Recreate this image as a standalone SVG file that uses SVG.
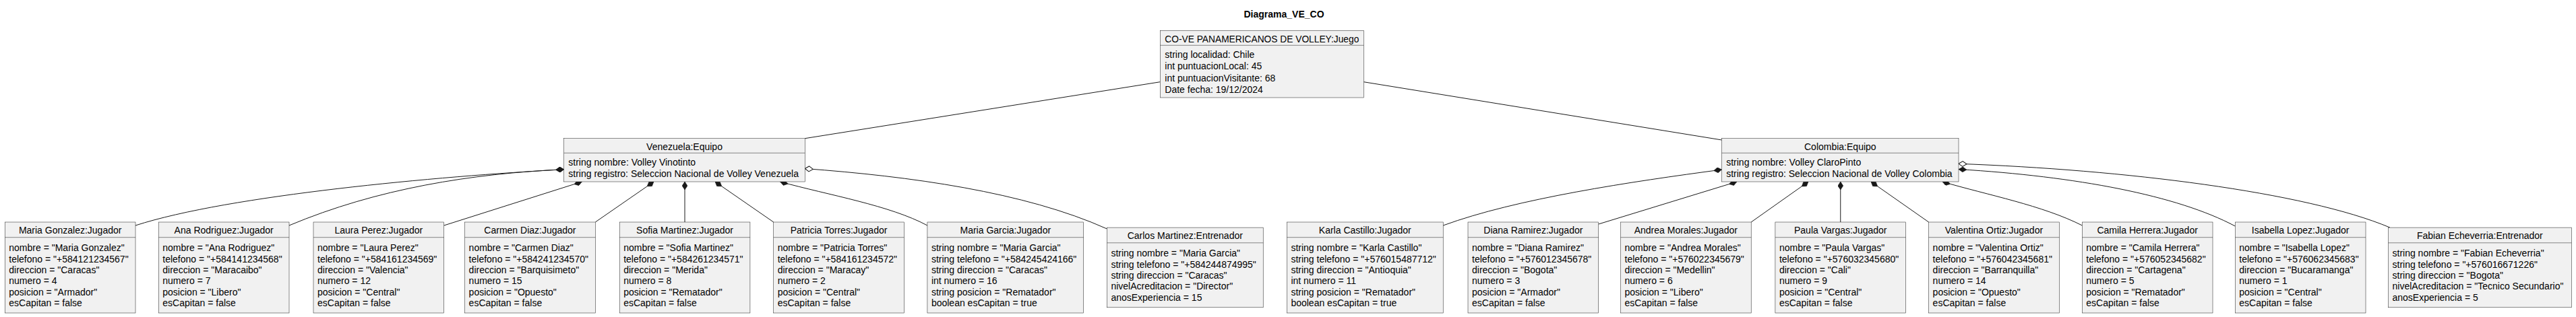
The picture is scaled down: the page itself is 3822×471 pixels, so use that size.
<svg xmlns="http://www.w3.org/2000/svg" width="3822" height="471" viewBox="0 0 3822 471">
<style>
.box{fill:#F1F1F1;stroke:#181818;stroke-width:0.5}
.sep{stroke:#181818;stroke-width:0.5}
text{font-family:"Liberation Sans",Arial,sans-serif;font-size:14px;fill:#000}
.h{text-anchor:middle}
.title{font-weight:bold;text-anchor:middle}
.edge{fill:none;stroke:#181818;stroke-width:1}
.c{marker-start:url(#comp)}
.a{marker-start:url(#agg)}
</style>
<defs>
<marker id="comp" markerUnits="userSpaceOnUse" viewBox="0 0 12 8" refX="0" refY="4" markerWidth="12" markerHeight="8" orient="auto"><path d="M0,4 L6,0 L12,4 L6,8 Z" fill="#181818" stroke="#181818" stroke-width="0.5"/></marker>
<marker id="agg" markerUnits="userSpaceOnUse" viewBox="-1 -1 14 10" refX="0" refY="4" markerWidth="14" markerHeight="10" orient="auto"><path d="M0,4 L6,0 L12,4 L6,8 Z" fill="#FFFFFF" stroke="#181818" stroke-width="1"/></marker>
</defs>
<rect width="3822" height="471" fill="#FFFFFF"/>
<text class="title" x="1905" y="26">Diagrama_VE_CO</text>

<g id="connectors">
<path class="edge" d="M1721.3,121.7 L1194.3,205.7"/>
<path class="edge" d="M2023.3,121.7 L2554.6,208"/>
<path class="edge c" d="M836.7,251.7 C650,262 340,290 201,335"/>
<path class="edge c" d="M836.7,251.7 C700,258 560,280 429,335"/>
<path class="edge c" d="M863.4,270 L658.7,335"/>
<path class="edge c" d="M970,270 L883.3,330"/>
<path class="edge c" d="M1016,270 L1016,330"/>
<path class="edge c" d="M1061,270 L1147.7,330"/>
<path class="edge c" d="M1157.5,270 C1230,290 1320,305 1375.9,335"/>
<path class="edge a" d="M1194.3,250.5 C1350,262 1520,285 1642.4,340"/>
<path class="edge c" d="M2554.6,252 C2420,270 2250,295 2141.2,335"/>
<path class="edge c" d="M2577,270 L2371.7,333"/>
<path class="edge c" d="M2683,270 L2598.2,330"/>
<path class="edge c" d="M2730.75,270 L2730.75,330"/>
<path class="edge c" d="M2776,270 L2861.6,330"/>
<path class="edge c" d="M2882,270 C2950,290 3030,305 3089.3,335"/>
<path class="edge c" d="M2906,251.5 C3080,262 3230,290 3316.3,336"/>
<path class="edge a" d="M2906,243.3 C3150,252 3420,285 3546,338.1"/>
</g>

<g id="juego">
<rect class="box" x="1721.3" y="45.3" width="302" height="99.7"/>
<line class="sep" x1="1721.3" y1="67.3" x2="2023.3" y2="67.3"/>
<text class="h" x="1872.3" y="63" textLength="288" lengthAdjust="spacingAndGlyphs">CO-VE PANAMERICANOS DE VOLLEY:Juego</text>
<text x="1728.3" y="85.7">string localidad: Chile</text>
<text x="1728.3" y="103.2">int puntuacionLocal: 45</text>
<text x="1728.3" y="120.7">int puntuacionVisitante: 68</text>
<text x="1728.3" y="138.2">Date fecha: 19/12/2024</text>
</g>

<g id="venezuela">
<rect class="box" x="836.7" y="205.7" width="357.6" height="64.3"/>
<line class="sep" x1="836.7" y1="227.3" x2="1194.3" y2="227.3"/>
<text class="h" x="1015.5" y="222.7">Venezuela:Equipo</text>
<text x="843.3" y="246">string nombre: Volley Vinotinto</text>
<text x="843.3" y="263.3">string registro: Seleccion Nacional de Volley Venezuela</text>
</g>

<g id="colombia">
<rect class="box" x="2554.6" y="205.7" width="351.4" height="64.3"/>
<line class="sep" x1="2554.6" y1="227.3" x2="2906" y2="227.3"/>
<text class="h" x="2730.3" y="222.7">Colombia:Equipo</text>
<text x="2561.2" y="246">string nombre: Volley ClaroPinto</text>
<text x="2561.2" y="263.3">string registro: Seleccion Nacional de Volley Colombia</text>
</g>

<g id="maria_gonzalez">
<rect class="box" x="7.3" y="330" width="193.7" height="135"/>
<line class="sep" x1="7.3" y1="352.7" x2="201" y2="352.7"/>
<text class="h" x="104.15" y="347.3">Maria Gonzalez:Jugador</text>
<text x="13.3" y="373.3">nombre = "Maria Gonzalez"</text>
<text x="13.3" y="389.6">telefono = "+584121234567"</text>
<text x="13.3" y="405.9">direccion = "Caracas"</text>
<text x="13.3" y="422.2">numero = 4</text>
<text x="13.3" y="438.5">posicion = "Armador"</text>
<text x="13.3" y="454.8">esCapitan = false</text>
</g>

<g id="ana_rodriguez">
<rect class="box" x="235.3" y="330" width="193.7" height="135"/>
<line class="sep" x1="235.3" y1="352.7" x2="429" y2="352.7"/>
<text class="h" x="332.15" y="347.3">Ana Rodriguez:Jugador</text>
<text x="241.3" y="373.3">nombre = "Ana Rodriguez"</text>
<text x="241.3" y="389.6">telefono = "+584141234568"</text>
<text x="241.3" y="405.9">direccion = "Maracaibo"</text>
<text x="241.3" y="422.2">numero = 7</text>
<text x="241.3" y="438.5">posicion = "Libero"</text>
<text x="241.3" y="454.8">esCapitan = false</text>
</g>

<g id="laura_perez">
<rect class="box" x="465" y="330" width="193.7" height="135"/>
<line class="sep" x1="465" y1="352.7" x2="658.7" y2="352.7"/>
<text class="h" x="561.85" y="347.3">Laura Perez:Jugador</text>
<text x="471" y="373.3">nombre = "Laura Perez"</text>
<text x="471" y="389.6">telefono = "+584161234569"</text>
<text x="471" y="405.9">direccion = "Valencia"</text>
<text x="471" y="422.2">numero = 12</text>
<text x="471" y="438.5">posicion = "Central"</text>
<text x="471" y="454.8">esCapitan = false</text>
</g>

<g id="carmen_diaz">
<rect class="box" x="689.6" y="330" width="193.7" height="135"/>
<line class="sep" x1="689.6" y1="352.7" x2="883.3" y2="352.7"/>
<text class="h" x="786.45" y="347.3">Carmen Diaz:Jugador</text>
<text x="695.6" y="373.3">nombre = "Carmen Diaz"</text>
<text x="695.6" y="389.6">telefono = "+584241234570"</text>
<text x="695.6" y="405.9">direccion = "Barquisimeto"</text>
<text x="695.6" y="422.2">numero = 15</text>
<text x="695.6" y="438.5">posicion = "Opuesto"</text>
<text x="695.6" y="454.8">esCapitan = false</text>
</g>

<g id="sofia_martinez">
<rect class="box" x="919.2" y="330" width="193.7" height="135"/>
<line class="sep" x1="919.2" y1="352.7" x2="1112.9" y2="352.7"/>
<text class="h" x="1016.05" y="347.3">Sofia Martinez:Jugador</text>
<text x="925.2" y="373.3">nombre = "Sofia Martinez"</text>
<text x="925.2" y="389.6">telefono = "+584261234571"</text>
<text x="925.2" y="405.9">direccion = "Merida"</text>
<text x="925.2" y="422.2">numero = 8</text>
<text x="925.2" y="438.5">posicion = "Rematador"</text>
<text x="925.2" y="454.8">esCapitan = false</text>
</g>

<g id="patricia_torres">
<rect class="box" x="1147.7" y="330" width="193.7" height="135"/>
<line class="sep" x1="1147.7" y1="352.7" x2="1341.4" y2="352.7"/>
<text class="h" x="1244.55" y="347.3">Patricia Torres:Jugador</text>
<text x="1153.7" y="373.3">nombre = "Patricia Torres"</text>
<text x="1153.7" y="389.6">telefono = "+584161234572"</text>
<text x="1153.7" y="405.9">direccion = "Maracay"</text>
<text x="1153.7" y="422.2">numero = 2</text>
<text x="1153.7" y="438.5">posicion = "Central"</text>
<text x="1153.7" y="454.8">esCapitan = false</text>
</g>

<g id="maria_garcia">
<rect class="box" x="1375.9" y="330" width="231.8" height="135"/>
<line class="sep" x1="1375.9" y1="352.7" x2="1607.7" y2="352.7"/>
<text class="h" x="1491.8" y="347.3">Maria Garcia:Jugador</text>
<text x="1381.9" y="373.3">string nombre = "Maria Garcia"</text>
<text x="1381.9" y="389.6">string telefono = "+584245424166"</text>
<text x="1381.9" y="405.9">string direccion = "Caracas"</text>
<text x="1381.9" y="422.2">int numero = 16</text>
<text x="1381.9" y="438.5">string posicion = "Rematador"</text>
<text x="1381.9" y="454.8">boolean esCapitan = true</text>
</g>

<g id="carlos_martinez">
<rect class="box" x="1642.4" y="338.1" width="231.8" height="118.7"/>
<line class="sep" x1="1642.4" y1="360.8" x2="1874.2" y2="360.8"/>
<text class="h" x="1758.3" y="355.4">Carlos Martinez:Entrenador</text>
<text x="1648.4" y="381.4">string nombre = "Maria Garcia"</text>
<text x="1648.4" y="397.7">string telefono = "+584244874995"</text>
<text x="1648.4" y="414">string direccion = "Caracas"</text>
<text x="1648.4" y="430.3">nivelAcreditacion = "Director"</text>
<text x="1648.4" y="446.6">anosExperiencia = 15</text>
</g>

<g id="karla_castillo">
<rect class="box" x="1909.4" y="330" width="231.8" height="135"/>
<line class="sep" x1="1909.4" y1="352.7" x2="2141.2" y2="352.7"/>
<text class="h" x="2025.3" y="347.3">Karla Castillo:Jugador</text>
<text x="1915.4" y="373.3">string nombre = "Karla Castillo"</text>
<text x="1915.4" y="389.6">string telefono = "+576015487712"</text>
<text x="1915.4" y="405.9">string direccion = "Antioquia"</text>
<text x="1915.4" y="422.2">int numero = 11</text>
<text x="1915.4" y="438.5">string posicion = "Rematador"</text>
<text x="1915.4" y="454.8">boolean esCapitan = true</text>
</g>

<g id="diana_ramirez">
<rect class="box" x="2178" y="330" width="193.7" height="135"/>
<line class="sep" x1="2178" y1="352.7" x2="2371.7" y2="352.7"/>
<text class="h" x="2274.85" y="347.3">Diana Ramirez:Jugador</text>
<text x="2184" y="373.3">nombre = "Diana Ramirez"</text>
<text x="2184" y="389.6">telefono = "+576012345678"</text>
<text x="2184" y="405.9">direccion = "Bogota"</text>
<text x="2184" y="422.2">numero = 3</text>
<text x="2184" y="438.5">posicion = "Armador"</text>
<text x="2184" y="454.8">esCapitan = false</text>
</g>

<g id="andrea_morales">
<rect class="box" x="2404.5" y="330" width="193.7" height="135"/>
<line class="sep" x1="2404.5" y1="352.7" x2="2598.2" y2="352.7"/>
<text class="h" x="2501.35" y="347.3">Andrea Morales:Jugador</text>
<text x="2410.5" y="373.3">nombre = "Andrea Morales"</text>
<text x="2410.5" y="389.6">telefono = "+576022345679"</text>
<text x="2410.5" y="405.9">direccion = "Medellin"</text>
<text x="2410.5" y="422.2">numero = 6</text>
<text x="2410.5" y="438.5">posicion = "Libero"</text>
<text x="2410.5" y="454.8">esCapitan = false</text>
</g>

<g id="paula_vargas">
<rect class="box" x="2633.9" y="330" width="193.7" height="135"/>
<line class="sep" x1="2633.9" y1="352.7" x2="2827.6" y2="352.7"/>
<text class="h" x="2730.75" y="347.3">Paula Vargas:Jugador</text>
<text x="2639.9" y="373.3">nombre = "Paula Vargas"</text>
<text x="2639.9" y="389.6">telefono = "+576032345680"</text>
<text x="2639.9" y="405.9">direccion = "Cali"</text>
<text x="2639.9" y="422.2">numero = 9</text>
<text x="2639.9" y="438.5">posicion = "Central"</text>
<text x="2639.9" y="454.8">esCapitan = false</text>
</g>

<g id="valentina_ortiz">
<rect class="box" x="2861.6" y="330" width="193.7" height="135"/>
<line class="sep" x1="2861.6" y1="352.7" x2="3055.3" y2="352.7"/>
<text class="h" x="2958.45" y="347.3">Valentina Ortiz:Jugador</text>
<text x="2867.6" y="373.3">nombre = "Valentina Ortiz"</text>
<text x="2867.6" y="389.6">telefono = "+576042345681"</text>
<text x="2867.6" y="405.9">direccion = "Barranquilla"</text>
<text x="2867.6" y="422.2">numero = 14</text>
<text x="2867.6" y="438.5">posicion = "Opuesto"</text>
<text x="2867.6" y="454.8">esCapitan = false</text>
</g>

<g id="camila_herrera">
<rect class="box" x="3089.3" y="330" width="193.7" height="135"/>
<line class="sep" x1="3089.3" y1="352.7" x2="3283" y2="352.7"/>
<text class="h" x="3186.15" y="347.3">Camila Herrera:Jugador</text>
<text x="3095.3" y="373.3">nombre = "Camila Herrera"</text>
<text x="3095.3" y="389.6">telefono = "+576052345682"</text>
<text x="3095.3" y="405.9">direccion = "Cartagena"</text>
<text x="3095.3" y="422.2">numero = 5</text>
<text x="3095.3" y="438.5">posicion = "Rematador"</text>
<text x="3095.3" y="454.8">esCapitan = false</text>
</g>

<g id="isabella_lopez">
<rect class="box" x="3316.3" y="330" width="193.7" height="135"/>
<line class="sep" x1="3316.3" y1="352.7" x2="3510" y2="352.7"/>
<text class="h" x="3413.15" y="347.3">Isabella Lopez:Jugador</text>
<text x="3322.3" y="373.3">nombre = "Isabella Lopez"</text>
<text x="3322.3" y="389.6">telefono = "+576062345683"</text>
<text x="3322.3" y="405.9">direccion = "Bucaramanga"</text>
<text x="3322.3" y="422.2">numero = 1</text>
<text x="3322.3" y="438.5">posicion = "Central"</text>
<text x="3322.3" y="454.8">esCapitan = false</text>
</g>

<g id="fabian_echeverria">
<rect class="box" x="3543.5" y="338.1" width="271.8" height="118.7"/>
<line class="sep" x1="3543.5" y1="360.8" x2="3815.3" y2="360.8"/>
<text class="h" x="3679.4" y="355.4">Fabian Echeverria:Entrenador</text>
<text x="3549.5" y="381.4">string nombre = "Fabian Echeverria"</text>
<text x="3549.5" y="397.7">string telefono = "+576016671226"</text>
<text x="3549.5" y="414">string direccion = "Bogota"</text>
<text x="3549.5" y="430.3">nivelAcreditacion = "Tecnico Secundario"</text>
<text x="3549.5" y="446.6">anosExperiencia = 5</text>
</g>
</svg>
